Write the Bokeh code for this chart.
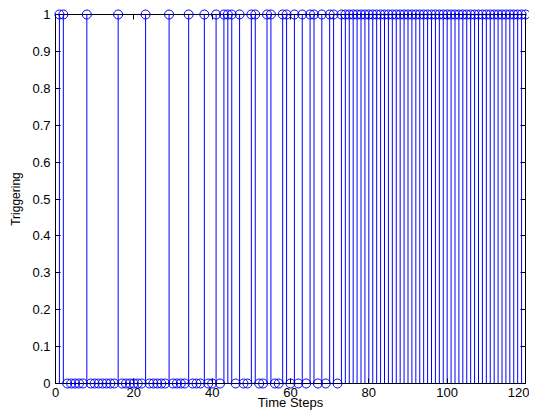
from bokeh.plotting import figure
from bokeh.models import (ColumnDataSource, FixedTicker, LinearAxis, Range1d,
                          CustomJSTickFormatter)
from bokeh.core.properties import value
from bokeh.embed import file_html
from bokeh.resources import INLINE

steps = list(range(1, 121))
triggering = [
    1, 1, 0, 0, 0, 0, 0, 1, 0, 0,
    0, 0, 0, 0, 0, 1, 0, 0, 0, 0,
    0, 0, 1, 0, 0, 0, 0, 0, 1, 0,
    0, 0, 0, 1, 0, 0, 0, 1, 0, 0,
    1, 0, 1, 1, 1, 0, 1, 0, 0, 1,
    1, 0, 0, 1, 1, 0, 0, 1, 1, 0,
    1, 0, 1, 0, 1, 1, 0, 1, 0, 1,
    1, 0, 1, 1, 1, 1, 1, 1, 1, 1,
    1, 1, 1, 1, 1, 1, 1, 1, 1, 1,
    1, 1, 1, 1, 1, 1, 1, 1, 1, 1,
    1, 1, 1, 1, 1, 1, 1, 1, 1, 1,
    1, 1, 1, 1, 1, 1, 1, 1, 1, 1,
]
baseline = [0] * len(steps)

x_ticks = [0, 20, 40, 60, 80, 100, 120]
x_tick_labels = ["0", "20", "40", "60", "80", "100", "120"]
y_ticks = [0, 0.1, 0.2, 0.3, 0.4, 0.5, 0.6, 0.7, 0.8, 0.9, 1.0]
y_tick_labels = ["0", "0.1", "0.2", "0.3", "0.4", "0.5", "0.6", "0.7", "0.8", "0.9", "1"]
x_title = "Time Steps"
y_title = "Triggering"

src = ColumnDataSource(dict(x=steps, y=triggering, base=baseline))

FONT = "Liberation Sans"

p = figure(width=529, height=410, output_backend="svg", toolbar_location=None,
           x_range=Range1d(x_ticks[0], x_ticks[-1]), y_range=Range1d(y_ticks[0], y_ticks[-1]),
           min_border_left=55, min_border_right=4, min_border_top=14, min_border_bottom=27)
p.xgrid.visible = False
p.ygrid.visible = False
p.outline_line_color = "black"
p.outline_line_width = 1
p.background_fill_color = "white"
p.border_fill_color = "white"

# stems
p.segment(x0="x", y0="base", x1="x", y1="y", source=src, line_color="#0000ff", line_width=1)
sc = p.scatter(x="x", y="y", source=src, marker="circle", size=9, fill_color=None,
               line_color="#0000ff", line_width=1)
sc.level = "overlay"

for ax in p.xaxis:
    ax.ticker = FixedTicker(ticks=x_ticks)
    ax.major_label_overrides = {t: l for t, l in zip(x_ticks, x_tick_labels)}
for ax in p.yaxis:
    ax.ticker = FixedTicker(ticks=y_ticks)
    ax.major_label_overrides = {t: l for t, l in zip(y_ticks, y_tick_labels)}

for ax in list(p.xaxis) + list(p.yaxis):
    ax.major_tick_in = 5
    ax.major_tick_out = 0
    ax.minor_tick_in = 0
    ax.minor_tick_out = 0
    ax.axis_line_color = "black"
    ax.major_tick_line_color = "black"
    ax.major_label_text_font = FONT
    ax.major_label_text_font_size = "13px"
    ax.major_label_text_color = "black"
    ax.axis_label_text_font = FONT
    ax.axis_label_text_font_size = "12px"
    ax.axis_label_text_font_style = "normal"
    ax.axis_label_text_color = "black"

p.xaxis.major_label_standoff = 4
p.yaxis.axis_label = y_title
p.yaxis.major_label_standoff = 5
p.yaxis.axis_label_standoff = 6

# x-axis title placed just under the tick labels without taking layout space
px_per_unit = 369.0 / (y_ticks[-1] - y_ticks[0])
title_src = ColumnDataSource(dict(x=[(x_ticks[0] + x_ticks[-1]) / 2],
                                  y=[y_ticks[0] - 26.5 / px_per_unit],
                                  t=[x_title]))
tr = p.text(x="x", y="y", text="t", source=title_src, text_align="center",
            text_baseline="bottom", text_font=value(FONT), text_font_size="13px",
            text_color="black")
tr.level = "overlay"

blank = CustomJSTickFormatter(code="return ''")
top = LinearAxis(ticker=FixedTicker(ticks=x_ticks), major_tick_in=5, major_tick_out=0,
                 minor_tick_in=0, minor_tick_out=0, formatter=blank,
                 major_label_standoff=0, axis_line_color="black")
right = LinearAxis(ticker=FixedTicker(ticks=y_ticks), major_tick_in=5, major_tick_out=0,
                   minor_tick_in=0, minor_tick_out=0, formatter=blank,
                   major_label_standoff=0, axis_line_color="black")
p.add_layout(top, "above")
p.add_layout(right, "right")

open("out.html", "w").write(file_html(p, INLINE))
